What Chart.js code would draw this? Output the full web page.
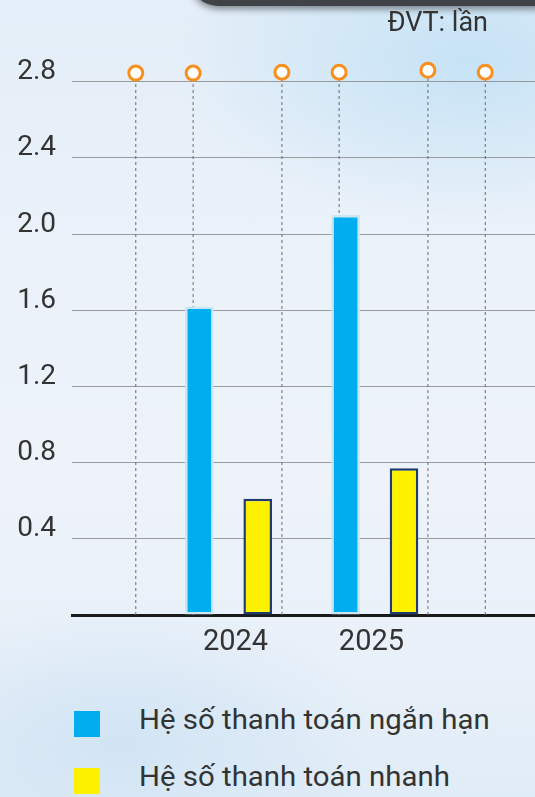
<!DOCTYPE html>
<html>
<head>
<meta charset="utf-8">
<script src="https://cdn.jsdelivr.net/npm/chart.js@4.4.1/dist/chart.umd.min.js"></script>
<style>
  html, body { margin: 0; padding: 0; }
  body {
    width: 535px; height: 797px; overflow: hidden; position: relative;
    font-family: Roboto, "Noto Sans", sans-serif;
    background:
      radial-gradient(ellipse 300px 160px at 470px 60px, rgba(196,226,245,0.95), rgba(196,226,245,0) 100%),
      radial-gradient(ellipse 260px 140px at 120px 740px, rgba(205,226,243,0.8), rgba(205,226,243,0) 100%),
      linear-gradient(180deg, #e4eef8 0%, #ebf2fa 35%, #eef3fa 60%, #e8f0f9 85%, #e0ecf7 100%);
  }
  #shade {
    position: absolute; left: 190px; top: -34px; width: 420px; height: 40px;
    background: #3f4246; border-radius: 0 0 0 28px;
    box-shadow: 0 3px 7px rgba(0,0,0,0.45);
  }
  #unit {
    position: absolute; right: 47px; top: 9px; font-size: 27px; line-height: 27px;
    color: #333;
  }
  .lg-box { position: absolute; left: 74px; width: 26px; height: 26px; }
  .lg-text { position: absolute; left: 139px; font-size: 27px; line-height: 27px; color: #333; white-space: nowrap;
             transform: scaleX(1.088); transform-origin: 0 50%; }
  canvas { position: absolute; left: 0; top: 0; }
</style>
</head>
<body>
<div id="shade"></div>
<canvas id="c" width="535" height="680"></canvas>
<div id="unit">ĐVT: lần</div>
<div id="legend"></div>
<script>
// ---- data ----
const categories = ['2024', '2025'];
const groupX = [1, 2];
const seriesNames = ['Hệ số thanh toán ngắn hạn', 'Hệ số thanh toán nhanh'];
const shortTerm = [1.62, 2.10];
const quick = [0.61, 0.77];
const yTickValues = [0, 0.4, 0.8, 1.2, 1.6, 2.0, 2.4, 2.8];
const yTickLabels = ['', '0.4', '0.8', '1.2', '1.6', '2.0', '2.4', '2.8'];
const xTickValues = [1.048, 1.977];
const xTickLabels = ['2024', '2025'];
const markerX = [0.366, 0.758, 1.365, 1.756, 2.363, 2.755];
const markerY = [2.845, 2.845, 2.85, 2.85, 2.86, 2.85];

const colors = ['#00aeef', '#fff200'];
const borders = ['#cbe6f3', '#1f3b6f'];

Chart.defaults.font.family = 'Roboto, "Noto Sans", sans-serif';

const datasets = [
  {
    type: 'bar', label: seriesNames[0],
    data: groupX.map((x, i) => ({ x, y: shortTerm[i] })),
    backgroundColor: colors[0], borderColor: borders[0], borderWidth: 2.5,
    borderSkipped: false, categoryPercentage: 0.859, barPercentage: 0.49, order: 1
  },
  {
    type: 'bar', label: seriesNames[1],
    data: groupX.map((x, i) => ({ x, y: quick[i] })),
    backgroundColor: colors[1], borderColor: borders[1], borderWidth: 2.5,
    borderSkipped: false, categoryPercentage: 0.859, barPercentage: 0.49, order: 1
  }
];
markerX.forEach((mx, i) => {
  datasets.push({
    type: 'line', label: 'marker' + i,
    data: [{ x: mx, y: 0 }, { x: mx, y: markerY[i] }],
    borderColor: '#6b6b6b', borderWidth: 1, borderDash: [3, 3],
    pointRadius: [0, 7], pointBorderWidth: 3,
    pointBorderColor: '#f7901e', pointBackgroundColor: '#ffffff',
    fill: false, order: 2
  });
});

new Chart(document.getElementById('c'), {
  data: { datasets },
  options: {
    responsive: false, animation: false, devicePixelRatio: 1,
    layout: { autoPadding: false, padding: { top: 43.6, right: 0, bottom: 0, left: 0 } },
    plugins: { legend: { display: false }, tooltip: { enabled: false } },
    scales: {
      x: {
        type: 'linear', min: -0.07, max: 3.095, offset: false, z: 1,
        grid: { display: false, drawTicks: false },
        border: { display: true, color: '#1a1a1a', width: 3 },
        afterBuildTicks: s => { s.ticks = xTickValues.map(v => ({ value: v })); },
        afterFit: s => { s.height = 65; },
        ticks: {
          callback: (v, i) => xTickLabels[i], autoSkip: false, maxRotation: 0,
          font: { size: 29 }, color: '#333', padding: 10
        }
      },
      y: {
        type: 'linear', min: 0, max: 3.0,
        grid: { color: 'rgba(140,140,140,0.85)', lineWidth: 1, drawTicks: false },
        border: { display: false },
        afterBuildTicks: s => { s.ticks = yTickValues.map(v => ({ value: v })); },
        afterFit: s => { s.width = 72; },
        ticks: {
          callback: (v, i) => yTickLabels[i], font: { size: 28 }, color: '#333',
          padding: 16, labelOffset: -9.5
        }
      }
    }
  }
});

// legend (HTML)
const lg = document.getElementById('legend');
const rowTops = [711, 767.5];
seriesNames.forEach((name, i) => {
  const b = document.createElement('div');
  b.className = 'lg-box'; b.style.top = rowTops[i] + 'px'; b.style.background = colors[i];
  const t = document.createElement('div');
  t.className = 'lg-text'; t.style.top = (rowTops[i] - 3.7) + 'px'; t.textContent = name;
  lg.appendChild(b); lg.appendChild(t);
});
</script>
</body>
</html>
